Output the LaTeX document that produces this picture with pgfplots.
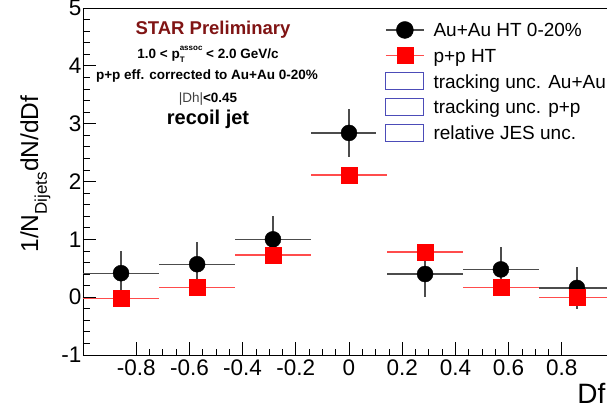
\documentclass[border=0pt]{standalone}
\usepackage{pgfplots}
\pgfplotsset{compat=1.18}
\usepackage{fontspec}
\setmainfont{Liberation Sans}

\definecolor{starred}{rgb}{0.50,0.08,0.08}
\definecolor{uncblue}{rgb}{0.30,0.30,0.72}
\definecolor{barblack}{gray}{0.30}
\definecolor{barred}{rgb}{1,0.30,0.30}

\begin{document}
\begin{tikzpicture}
\begin{axis}[
  at={(0pt,0pt)}, anchor=south west,
  scale only axis,
  width=532pt, height=347pt,
  xmin=-1, xmax=1, ymin=-1, ymax=5,
  axis line style={line width=0.9pt},
  tick style={black, line width=0.8pt},
  tick align=inside,
  tick pos=left,
  major tick length=13pt, minor tick length=6.5pt,
  xtick={-0.8,-0.6,-0.4,-0.2,0,0.2,0.4,0.6,0.8},
  xticklabels={-0.8,-0.6,-0.4,-0.2,0,0.2,0.4,0.6,0.8},
  ytick={-1,0,1,2,3,4,5},
  yticklabels={-1,0,1,2,3,4,5},
  minor x tick num=3,
  minor y tick num=4,
  tick label style={font=\fontsize{22.5}{24}\selectfont},
  yticklabel style={inner xsep=1.5pt},
  xticklabel style={inner ysep=5pt},
  clip=false,
  legend cell align=left,
  legend style={
    at={(axis description cs:0.5508,0.983)}, anchor=north west,
    draw=none, fill=white,
    inner xsep=9pt, inner ysep=3pt,
    font=\fontsize{19}{21}\selectfont,
    nodes={inner xsep=0pt, inner ysep=6.1pt, text height=13.5pt, text depth=0pt},
    row sep=0pt,
    /tikz/every odd column/.append style={column sep=9pt},
  },
]
% Au+Au HT 0-20%: statistical error bars, then markers
\addplot[forget plot, draw=none, mark=none,
  error bars/.cd, x dir=both, x explicit, y dir=both, y explicit,
  error mark=none, error bar style={barblack, line width=1.3pt}]
  coordinates {
    (-0.857,0.415) +- (0.1429,0.38)
    (-0.571,0.57)  +- (0.1429,0.38)
    (-0.286,1.00)  +- (0.1429,0.40)
    (0.000,2.84)   +- (0.1429,0.42)
    (0.286,0.40)   +- (0.1429,0.40)
    (0.571,0.48)   +- (0.1429,0.38)
    (0.857,0.16)   +- (0.1429,0.37)
  };
\addplot[forget plot, only marks, mark=*, mark size=8pt, black]
  coordinates {
    (-0.857,0.415) (-0.571,0.57) (-0.286,1.00) (0.000,2.84)
    (0.286,0.40) (0.571,0.48) (0.857,0.16)
  };
% p+p HT
\addplot[forget plot, draw=none, mark=none,
  error bars/.cd, x dir=both, x explicit,
  error mark=none, error bar style={barred, line width=1.3pt}]
  coordinates {
    (-0.857,-0.02) +- (0.1429,0)
    (-0.571,0.17)  +- (0.1429,0)
    (-0.286,0.73)  +- (0.1429,0)
    (0.000,2.11)   +- (0.1429,0)
    (0.286,0.78)   +- (0.1429,0)
    (0.571,0.17)   +- (0.1429,0)
    (0.857,0.00)   +- (0.1429,0)
  };
\addplot[forget plot, only marks, mark=square*, mark size=8pt, red]
  coordinates {
    (-0.857,-0.02) (-0.571,0.17) (-0.286,0.73) (0.000,2.11)
    (0.286,0.78) (0.571,0.17) (0.857,0.00)
  };

\addlegendimage{legend image code/.code={
  \draw[barblack, line width=1.3pt] (0pt,0pt) -- (38pt,0pt);
  \fill[black] (19pt,0pt) circle (8.5pt);}}
\addlegendentry{Au+Au HT 0-20\%}
\addlegendimage{legend image code/.code={
  \draw[barred, line width=1.3pt] (0pt,0pt) -- (38pt,0pt);
  \fill[red] (11pt,-8pt) rectangle (27pt,8pt);}}
\addlegendentry{p+p HT}
\addlegendimage{legend image code/.code={
  \draw[uncblue, line width=1pt] (0pt,-8.5pt) rectangle (38pt,8.5pt);}}
\addlegendentry{tracking unc. Au+Au}
\addlegendimage{legend image code/.code={
  \draw[uncblue, line width=1pt] (0pt,-8.5pt) rectangle (38pt,8.5pt);}}
\addlegendentry{tracking unc. p+p}
\addlegendimage{legend image code/.code={
  \draw[uncblue, line width=1pt] (0pt,-8.5pt) rectangle (38pt,8.5pt);}}
\addlegendentry{relative JES unc.}
\end{axis}

% annotations
\node[anchor=base, text=starred, font=\fontsize{18.5}{20}\selectfont\bfseries]
  at (130pt,320pt) {STAR Preliminary};
\node[anchor=base, font=\fontsize{13.5}{15}\selectfont\bfseries]
  at (125pt,296.5pt) {1.0 < p\rlap{\raisebox{-3.5pt}{\fontsize{8}{9}\selectfont T}}\raisebox{8pt}{\fontsize{8}{9}\selectfont assoc} < 2.0 GeV/c};
\node[anchor=base, font=\fontsize{13.5}{15}\selectfont\bfseries]
  at (124pt,276pt) {p+p eff. corrected to Au+Au 0-20\%};
\node[anchor=base, font=\fontsize{13.5}{15}\selectfont]
  at (125pt,253pt) {{\mdseries\color{black!75}|Dh|}\textbf{<0.45}};
\node[anchor=base, font=\fontsize{20}{22}\selectfont\bfseries]
  at (125pt,231pt) {recoil jet};

% axis titles
\node[rotate=90, anchor=base, font=\fontsize{24.5}{26}\selectfont]
  at (-45pt,181pt) {1/N\raisebox{-9pt}{\fontsize{17}{18}\selectfont Dijets}dN/dDf};
\node[anchor=base east, font=\fontsize{28}{30}\selectfont]
  at (526pt,-48pt) {Df};

\pgfresetboundingbox
\path[use as bounding box] (-83pt,-53pt) rectangle (524pt,355pt);
\end{tikzpicture}
\end{document}
